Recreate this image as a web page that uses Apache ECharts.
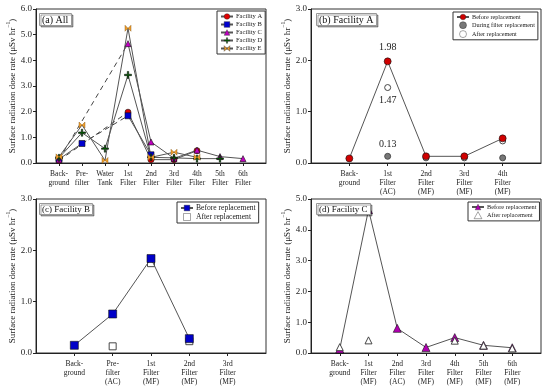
<!DOCTYPE html>
<html><head><meta charset="utf-8">
<script src="https://cdn.jsdelivr.net/npm/echarts@6/dist/echarts.min.js"></script>
<style>html,body{margin:0;padding:0;background:#fff}#c{width:550px;height:389px}</style>
</head><body><div id="c"></div>
<script>
// ---------- data ----------
const catsA = ['Back-\nground','Pre-\nfilter','Water\nTank','1st\nFilter','2nd\nFilter','3rd\nFilter','4th\nFilter','5th\nFilter','6th\nFilter'];
const allFacA = [0.10, null, null, 1.98, 0.13, 0.13, 0.48, null, null];
const allFacB = [0.15, 0.76, null, 1.84, 0.32, null, null, null, null];
const allFacC = [0.13, null, null, 4.65, 0.82, 0.18, 0.50, 0.25, 0.17];
const allFacD = [0.20, 1.18, 0.56, 3.43, 0.22, 0.20, 0.17, 0.17, null];
const allFacE = [0.24, 1.48, 0.10, 5.25, 0.22, 0.42, 0.22, null, null];
const allDashA = [0.10, null, null, 1.98, null, null, null, null, null];
const allDashB = [null, 0.76, null, 1.84, null, null, null, null, null];
const allDashC = [0.13, null, null, 4.65, null, null, null, null, null];

const catsB = ['Back-\nground','1st\nFilter\n(AC)','2nd\nFilter\n(MF)','3rd\nFilter\n(MF)','4th\nFilter\n(MF)'];
const facABefore = [0.09, 1.98, 0.13, 0.13, 0.48];
const facADuring = [null, 0.13, null, null, 0.10];
const facAAfter  = [null, 1.47, 0.10, 0.10, 0.43];

const catsC = ['Back-\nground','Pre-\nfilter\n(AC)','1st\nFilter\n(MF)','2nd\nFilter\n(MF)','3rd\nFilter\n(MF)'];
const facBBefore = [0.15, 0.76, 1.84, 0.28, null];
const facBAfter  = [null, 0.13, 1.75, 0.23, null];

const catsD = ['Back-\nground','1st\nFilter\n(MF)','2nd\nFilter\n(AC)','3rd\nFilter\n(MF)','4th\nFilter\n(MF)','5th\nFilter\n(MF)','6th\nFilter\n(MF)'];
const facCBefore = [0.13, 4.65, 0.80, 0.18, 0.50, 0.25, 0.17];
const facCAfter  = [0.19, 0.41, null, null, 0.40, 0.24, 0.15];

const yTicksA = [0, 6, 1];
const yTicksB = [0, 3, 1];
const yTicksC = [0, 3, 1];
const yTicksD = [0, 5, 1];

// ---------- styling ----------
const FONT = 'Liberation Serif';
const LINE = '#555';
const pad = a => [null].concat(a, [null]);
const padCats = a => [''].concat(a, ['']);
const plusPath = 'path://M4,0 H6 V4 H10 V6 H6 V10 H4 V6 H0 V4 H4 Z';
const bowPath = 'path://M0,0 L10,10 L10,0 L0,10 Z';
const sqPath = 'path://M0,0 H10 V10 H0 Z';
const triPath = 'path://M5,0 L10,9 L0,9 Z';

const grids = [
  {left: 36, top: 9, width: 230, height: 154},
  {left: 311, top: 9, width: 230, height: 154},
  {left: 36, top: 199, width: 230, height: 154},
  {left: 311, top: 199, width: 230, height: 154}
].map(g => Object.assign(g, {show: true, borderColor: '#333', borderWidth: 1, containLabel: false}));

function xAxis(idx, cats) {
  const data = padCats(cats);
  return {
    type: 'category', gridIndex: idx, data: data, boundaryGap: false,
    axisLine: {lineStyle: {color: '#222', width: 1}},
    axisTick: {show: true, length: 3, lineStyle: {color: '#222'},
      interval: (i) => i > 0 && i < data.length - 1},
    axisLabel: {interval: 0, fontFamily: FONT, fontSize: 7.5, color: '#222', lineHeight: 8.7, margin: 7}
  };
}
function yAxis(idx, t) {
  return {
    type: 'value', gridIndex: idx, min: t[0], max: t[1], interval: t[2],
    axisLine: {show: true, lineStyle: {color: '#222', width: 1}},
    axisTick: {show: true, length: 3, lineStyle: {color: '#222'}},
    splitLine: {show: false},
    axisLabel: {fontFamily: FONT, fontSize: 9, color: '#222', margin: 4, formatter: v => v.toFixed(1)},
    name: '{n|Surface radiation dose rate (μSv hr}{s|−1}{n|)}',
    nameLocation: 'middle', nameGap: 18, nameRotate: 90,
    nameTextStyle: {rich: {
      n: {fontFamily: FONT, fontSize: 9, color: '#222', lineHeight: 11, verticalAlign: 'bottom'},
      s: {fontFamily: FONT, fontSize: 5.5, color: '#222', lineHeight: 11, verticalAlign: 'top'}
    }}
  };
}
function titleBox(text, left, top, fs) {
  return {text: text, left: left, top: top, padding: [2, 3, 1, 3],
    borderColor: '#999', borderWidth: 1, backgroundColor: '#fff',
    shadowColor: 'rgba(0,0,0,0.35)', shadowOffsetX: 1.5, shadowOffsetY: 1.5, shadowBlur: 0,
    textStyle: {fontFamily: FONT, fontSize: fs, fontWeight: 'normal', color: '#111'}};
}
function legendBox(items, left, top, fs, iw, gap) {
  return {data: items, orient: 'vertical', left: left, top: top,
    borderColor: '#333', borderWidth: 1, backgroundColor: '#fff',
    padding: [2, 3, 2, 3], itemGap: gap, itemWidth: iw, itemHeight: 7,
    itemStyle: {borderWidth: 0.4, borderColor: '#222'},
    formatter: n => n.trim(), selectedMode: false,
    textStyle: {fontFamily: FONT, fontSize: fs, color: '#222', padding: [0, 0, 0, -2]}};
}
function lineS(name, gi, data, symbol, size, color, extra) {
  return Object.assign({
    name: name, type: 'line', xAxisIndex: gi, yAxisIndex: gi, data: pad(data),
    symbol: symbol, symbolSize: size, connectNulls: false,
    lineStyle: {color: LINE, width: 1},
    itemStyle: {color: color, borderColor: '#111', borderWidth: 0.6},
    emphasis: {disabled: true}, animation: false, z: 3
  }, extra || {});
}
function dashS(gi, data) {
  return {type: 'line', xAxisIndex: gi, yAxisIndex: gi, data: pad(data), connectNulls: true,
    symbol: 'none', lineStyle: {color: '#444', width: 1, type: [5, 4]}, animation: false, z: 2, silent: true};
}
function scat(name, gi, data, symbol, size, color, border, extra) {
  return Object.assign({
    name: name, type: 'scatter', xAxisIndex: gi, yAxisIndex: gi, data: pad(data),
    symbol: symbol, symbolSize: size,
    itemStyle: {color: color, borderColor: border, borderWidth: 0.9, opacity: 1},
    emphasis: {disabled: true}, animation: false, z: 2
  }, extra || {});
}
const lbl = (pos, dist) => ({show: true, position: pos, distance: dist, fontFamily: FONT, fontSize: 10, color: '#222',
  formatter: p => p.dataIndex === 2 ? p.value.toFixed(2) : ''});

const series = [
  // (a)
  dashS(0, allDashA), dashS(0, allDashB), dashS(0, allDashC),
  lineS('Facility A', 0, allFacA, 'circle', 6, '#e00000'),
  lineS('Facility B', 0, allFacB, sqPath, 6, '#0000d0'),
  lineS('Facility C', 0, allFacC, triPath, 6, '#c000c0'),
  lineS('Facility D', 0, allFacD, plusPath, 7, '#006000'),
  lineS('Facility E', 0, allFacE, bowPath, 6, '#f0a030', {itemStyle: {color: '#f0a030', borderColor: '#7a4a00', borderWidth: 0.4}}),
  // (b)
  scat('After replacement', 1, facAAfter, 'circle', 6, '#fff', '#333', {label: lbl('bottom', 4)}),
  scat('During filter replacement', 1, facADuring, 'circle', 6, '#777', '#444', {label: lbl('top', 4)}),
  lineS('Before replacement', 1, facABefore, 'circle', 7, '#d00000', {label: lbl('top', 5)}),
  // (c)
  scat('After replacement ', 2, facBAfter, sqPath, 7, '#fff', '#333'),
  lineS('Before replacement ', 2, facBBefore, sqPath, 8, '#0000c8'),
  // (d)
  scat('After replacement  ', 3, facCAfter, triPath, 7, '#fff', '#333', {z: 4}),
  lineS('Before replacement  ', 3, facCBefore, triPath, 8, '#b000b0')
];

const option = {
  backgroundColor: '#fff',
  animation: false,
  grid: grids,
  xAxis: [xAxis(0, catsA), xAxis(1, catsB), xAxis(2, catsC), xAxis(3, catsD)],
  yAxis: [yAxis(0, yTicksA), yAxis(1, yTicksB), yAxis(2, yTicksC), yAxis(3, yTicksD)],
  title: [
    titleBox('(a) All', 39, 13, 10),
    titleBox('(b) Facility A', 316, 13, 10),
    titleBox('(c) Facility B', 39, 203, 9),
    titleBox('(d) Facility C', 316, 203, 9)
  ],
  legend: [
    legendBox(['Facility A','Facility B','Facility C','Facility D','Facility E'], 217, 11, 6.5, 12, 1),
    legendBox(['Before replacement','During filter replacement','After replacement'], 453, 12, 6.2, 12, 1.5),
    legendBox(['Before replacement ','After replacement '], 177, 202, 7.6, 12, 1),
    legendBox(['Before replacement  ','After replacement  '], 468, 202, 6.3, 12, 1.5)
  ],
  series: series
};
const chart = echarts.init(document.getElementById('c'), null, {renderer: 'canvas'});
chart.setOption(option);
</script></body></html>
